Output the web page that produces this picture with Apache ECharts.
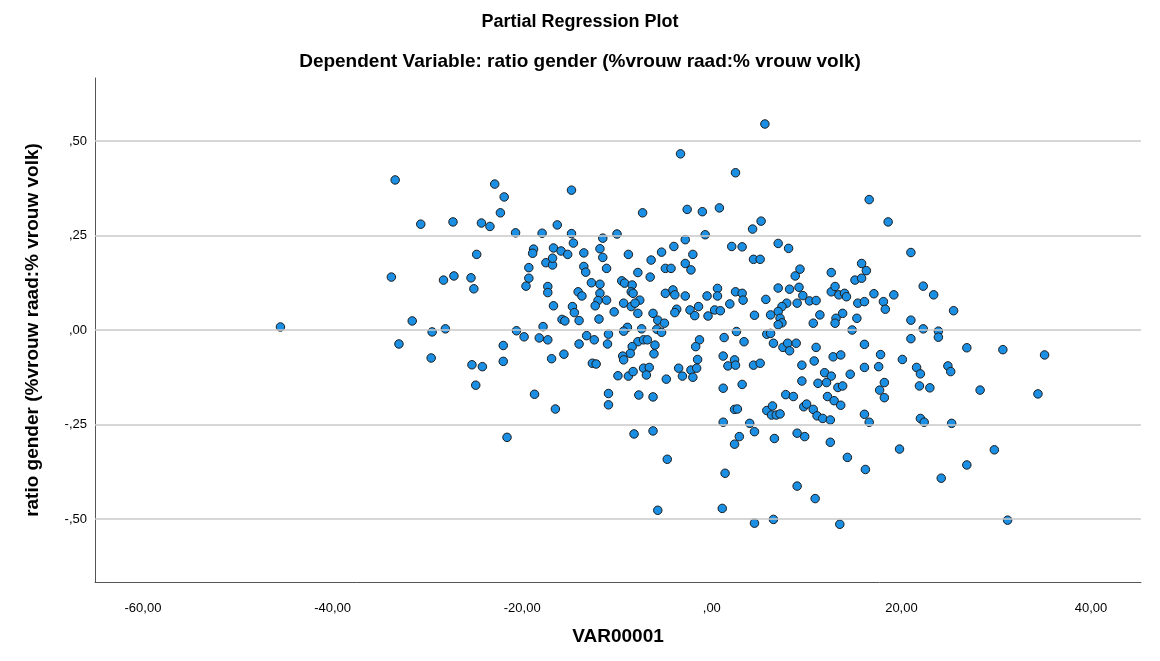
<!DOCTYPE html>
<html><head><meta charset="utf-8">
<script src="https://cdn.jsdelivr.net/npm/echarts@6/dist/echarts.min.js"></script>
<style>html,body{margin:0;padding:0;background:#fff}#c{width:1160px;height:661px}</style>
</head><body><div id="c"></div>
<script>
var xTicks = [-60, -40, -20, 0, 20, 40];
var yTicks = [-0.5, -0.25, 0, 0.25, 0.5];
var xVals = [
-45.5,-33.8,-33.4,-30.7,-27.3,-28.3,-27.2,-31.6,-29.5,-28.1,-33.0,-29.6,
-22.9,-21.9,-22.3,-24.3,-23.4,-14.8,-7.3,-20.7,-17.9,-16.3,-14.8,-14.6,-11.5,-10.0,-18.8,-16.7,-15.9,-11.8,-24.8,-15.2,-13.5,-8.8,-5.3,-4.0,
5.6,-3.3,2.5,16.6,-2.6,-1.0,0.8,5.2,4.3,-2.8,-0.7,2.1,3.2,7.0,8.1,-2.0,18.6,21.0,
-19.3,-19.3,-19.6,-18.9,-17.5,-16.8,-16.8,-13.5,-13.3,-11.5,-11.1,-6.4,-7.8,-6.5,-4.9,-25.4,-25.1,-17.3,-17.3,-12.7,-11.8,-14.1,-13.7,-11.8,-12.0,-11.1,-12.3,
-9.5,-9.2,-8.4,-8.5,-8.3,-7.6,-4.9,-9.3,-8.5,-8.1,-7.8,-10.3,-16.7,-14.7,-14.5,-15.8,-15.5,-14.0,-11.9,-6.2,-5.7,-5.0,-17.8,-20.6,-19.8,-18.2,-17.3,
-13.2,-12.4,-14.0,-10.9,-11.0,-8.9,-9.3,-7.4,-5.8,-5.3,-7.8,-7.2,-6.8,-6.0,-8.4,-8.6,-9.4,-9.3,-6.1,-22.0,-22.0,-25.3,-24.2,-24.9,-16.9,-15.6,-12.6,-12.2,
-7.2,-6.6,-9.9,-8.8,-8.3,-6.9,-4.8,-18.7,-10.9,-7.7,-6.2,
-2.8,-2.2,-4.3,4.4,5.1,15.8,16.3,12.6,9.3,8.8,15.1,15.8,-4.1,-3.9,-2.8,-3.7,-3.9,-2.3,-1.4,-1.8,-0.5,0.6,0.6,-0.4,0.3,0.9,1.9,2.5,3.2,3.3,4.5,5.7,
7.0,8.2,9.2,9.6,10.3,11.0,9.0,7.9,7.4,7.0,6.2,7.2,7.4,7.0,11.4,10.7,12.6,13.0,13.4,14.0,14.2,15.4,16.1,13.8,13.1,13.0,15.3,14.8,
2.6,5.8,6.2,1.3,3.4,-1.3,-1.7,6.5,7.5,8.0,8.2,8.9,11.0,16.1,-1.5,1.2,2.4,1.7,2.5,4.4,5.1,-3.5,-3.1,-2.2,-2.0,-1.6,9.5,10.8,12.8,13.6,16.1,11.9,12.6,14.6,
1.2,3.2,9.5,11.2,12.1,13.3,13.8,
22.3,23.4,17.1,19.2,18.1,18.3,25.5,21.0,22.3,23.9,23.9,21.0,26.9,30.7,35.1,17.8,20.1,17.6,21.6,22.0,24.9,25.2,18.2,17.7,21.9,23.0,28.3,34.4,
-16.5,-10.9,-21.6,-8.2,-6.2,-4.7,-5.7,
7.8,8.6,12.2,12.9,13.6,2.4,2.7,5.8,6.4,6.3,6.8,7.2,9.7,10.0,10.7,11.1,11.7,12.5,16.1,16.6,1.2,4.0,4.5,2.9,2.4,6.6,9.0,9.8,12.5,14.3,16.2,1.4,9.0,10.9,1.1,4.5,6.5,13.5,
18.2,22.0,22.4,25.3,19.8,29.8,26.9,24.2,31.2
];
var yVals = [
0.008,0.140,0.397,0.280,0.286,0.132,0.143,0.024,-0.005,0.003,-0.037,-0.074,
0.386,0.352,0.310,0.283,0.274,0.370,0.310,0.257,0.256,0.278,0.255,0.230,0.243,0.254,0.214,0.217,0.209,0.215,0.200,0.200,0.204,0.200,0.206,0.221,
0.545,0.466,0.416,0.345,0.319,0.313,0.323,0.288,0.267,0.239,0.252,0.221,0.220,0.229,0.216,0.200,0.286,0.205,
0.165,0.137,0.116,0.203,0.178,0.172,0.190,0.168,0.153,0.192,0.163,0.185,0.152,0.140,0.163,0.138,0.109,0.115,0.099,0.125,0.121,0.101,0.090,0.097,0.078,0.079,0.064,
0.130,0.124,0.119,0.101,0.097,0.079,0.097,0.071,0.062,0.071,0.044,0.048,0.064,0.062,0.046,0.028,0.024,0.025,0.029,0.044,0.026,0.018,0.009,-0.002,-0.018,-0.021,-0.026,
-0.015,-0.026,-0.037,-0.011,-0.037,0.007,-0.003,0.003,0.002,-0.006,-0.031,-0.026,-0.026,-0.040,-0.044,-0.062,-0.069,-0.079,-0.063,-0.041,-0.083,-0.092,-0.097,-0.146,-0.076,-0.064,-0.088,-0.090,
-0.101,-0.099,-0.121,-0.122,-0.110,-0.119,-0.130,-0.170,-0.168,-0.172,-0.177,
0.176,0.159,0.163,0.187,0.187,0.176,0.157,0.152,0.161,0.143,0.132,0.137,0.106,0.093,0.090,0.055,0.046,0.053,0.062,0.038,0.090,0.110,0.090,0.037,0.053,0.051,0.069,0.101,0.097,0.079,0.039,0.081,
0.111,0.108,0.113,0.091,0.077,0.078,0.071,0.071,0.062,0.049,0.040,0.031,0.019,0.014,0.040,0.018,0.101,0.115,0.093,0.097,0.088,0.071,0.075,0.044,0.031,0.018,0.031,0.000,
-0.004,-0.011,-0.009,-0.020,-0.031,-0.026,-0.044,-0.035,-0.046,-0.035,-0.055,-0.035,-0.046,-0.038,-0.078,-0.069,-0.079,-0.095,-0.093,-0.093,-0.088,-0.101,-0.122,-0.106,-0.125,-0.101,-0.093,-0.082,-0.071,-0.066,-0.099,-0.113,-0.122,-0.117,
-0.154,-0.144,-0.135,-0.141,-0.139,-0.152,-0.148,
0.116,0.093,0.096,0.093,0.075,0.055,0.051,0.026,0.003,-0.003,-0.019,-0.023,-0.047,-0.052,-0.066,-0.065,-0.078,-0.097,-0.099,-0.116,-0.095,-0.110,-0.139,-0.159,-0.148,-0.153,-0.159,-0.169,
-0.209,-0.198,-0.284,-0.275,-0.267,-0.342,-0.477,
-0.171,-0.176,-0.176,-0.187,-0.199,-0.210,-0.209,-0.213,-0.201,-0.225,-0.225,-0.222,-0.203,-0.196,-0.210,-0.227,-0.234,-0.238,-0.223,-0.244,-0.244,-0.247,-0.269,-0.282,-0.302,-0.287,-0.273,-0.282,-0.297,-0.337,-0.369,-0.379,-0.413,-0.446,-0.472,-0.511,-0.501,-0.514,
-0.179,-0.234,-0.244,-0.247,-0.315,-0.317,-0.357,-0.392,-0.503
];

function fmt(v){
  var s = Math.abs(v).toFixed(2).replace('.', ',');
  if (s.indexOf('0,') === 0) s = s.substring(1);
  return (v < 0 ? '-' : '') + s;
}
var pts = [];
for (var i = 0; i < Math.min(xVals.length, yVals.length); i++) pts.push([xVals[i], yVals[i]]);

var FONT = '"Liberation Sans", Arial, sans-serif';
var chart = echarts.init(document.getElementById('c'), null, {renderer: 'canvas'});
chart.setOption({
  animation: false,
  backgroundColor: '#ffffff',
  graphic: [
    {type: 'text', left: 'center', top: 13, style: {text: 'Partial Regression Plot', font: 'bold 18px ' + FONT, fill: '#000'}},
    {type: 'text', left: 'center', top: 52, style: {text: 'Dependent Variable: ratio gender (%vrouw raad:% vrouw volk)', font: 'bold 19px ' + FONT, fill: '#000'}}
  ],
  grid: {left: 95, right: 19, top: 78, bottom: 79},
  xAxis: {
    type: 'value', min: -65.06, max: 45.27,
    name: 'VAR00001', nameLocation: 'middle', nameGap: 45,
    nameTextStyle: {fontFamily: FONT, fontWeight: 'bold', fontSize: 19, color: '#000'},
    axisLine: {show: true, onZero: false, lineStyle: {color: '#555', width: 1}},
    axisTick: {show: false, customValues: xTicks},
    axisLabel: {customValues: xTicks, formatter: fmt, fontFamily: FONT, fontSize: 13, color: '#000', margin: 20},
    splitLine: {show: false}
  },
  yAxis: {
    type: 'value', min: -2/3, max: 2/3,
    name: 'ratio gender (%vrouw raad:% vrouw volk)', nameLocation: 'middle', nameGap: 53, nameRotate: 90,
    nameTextStyle: {fontFamily: FONT, fontWeight: 'bold', fontSize: 19, color: '#000'},
    axisLine: {show: true, onZero: false, lineStyle: {color: '#555', width: 1}},
    axisTick: {show: false, customValues: yTicks},
    axisLabel: {customValues: yTicks, formatter: fmt, fontFamily: FONT, fontSize: 13, color: '#000', margin: 8},
    splitLine: {show: false}
  },
  series: [
    {
      type: 'scatter', data: [], z: 1, silent: true,
      markLine: {
        silent: true, symbol: 'none', animation: false,
        label: {show: false},
        lineStyle: {color: '#c8c8c8', width: 1.5, type: 'solid'},
        data: yTicks.map(function (v) { return {yAxis: v}; })
      }
    },
    {
      type: 'scatter', data: pts, z: 3,
      symbol: 'circle', symbolSize: 8.5,
      itemStyle: {color: '#1a8fe3', borderColor: '#1c1c1c', borderWidth: 1, opacity: 1}
    }
  ]
});
</script></body></html>
